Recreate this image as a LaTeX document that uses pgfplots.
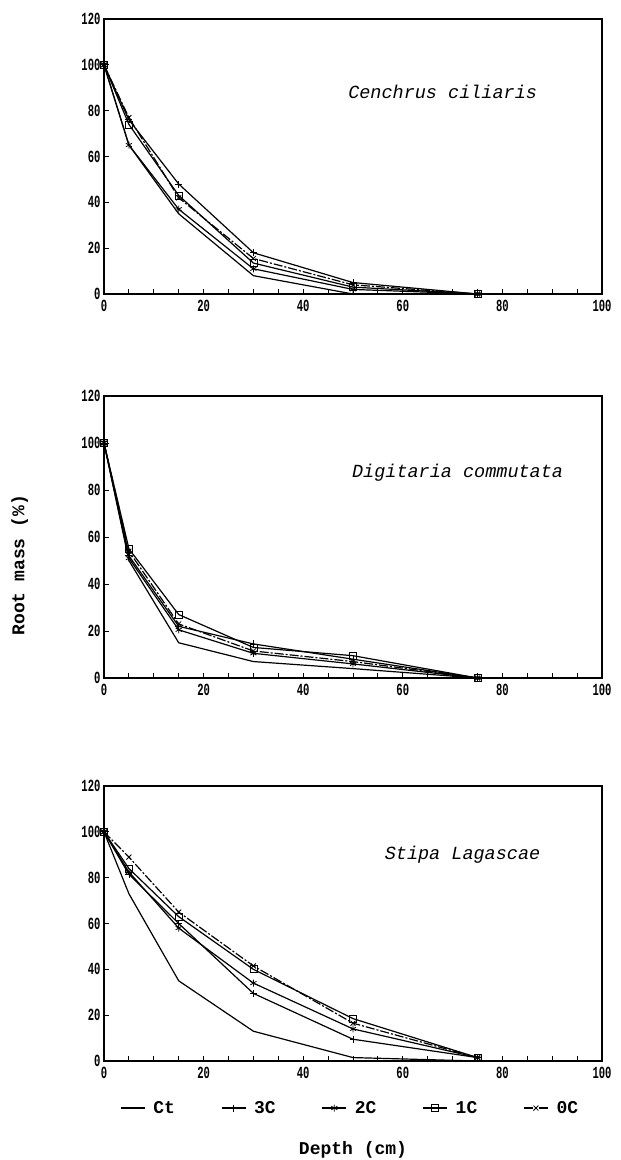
\documentclass[border=0pt]{standalone}
\usepackage{fontspec}
\setmainfont{Liberation Mono}
\newfontfamily\tickfont[FakeStretch=0.62]{Liberation Mono Bold}
\usepackage{pgfplots}
\usepackage{pgfplotstable}
\pgfplotsset{compat=1.18}

% depth (cm) vs root mass (%), one table per species
\pgfplotstableread{
depth ct c3 c2 c1 c0
0  100 100 100 100 100
5  65  76  65  74  77
15 35  48  37  43  42
30 8   18  11  13.5 15.5
50 0   5   2   3   4
75 0   0   0   0   0
}\cenchrus
\pgfplotstableread{
depth ct c3 c2 c1 c0
0  100 100 100 100 100
5  50  52  51  55  54
15 15  22  20.5 27 23
30 7   14.5 10.5 13 11.5
50 4   8   6   9.5 7
75 0   0   0   0   0
}\digitaria
\pgfplotstableread{
depth ct c3 c2 c1 c0
0  100 100 100 100 100
5  73  81.5 82.5 84 89
15 35  60  58  63  65
30 13  29.5 34 40  41.5
50 1.5 9.5 14  18.5 16.5
75 0   1.5 1.5 1.5 1.5
}\stipa

\tikzset{paneltitle/.style={font=\itshape\fontsize{18.5}{18.5}\selectfont}}

\pgfplotsset{
  rootpanel/.style={
    scale only axis, width=498pt, height=275pt,
    anchor=south west,
    xmin=0, xmax=100, ymin=0, ymax=120,
    xtick={0,20,...,100}, ytick={0,20,...,120},
    minor x tick num=3,
    tick align=inside, xtick pos=bottom, ytick pos=left,
    major tick length=5pt, minor tick length=5pt,
    /pgf/number format/assume math mode=true,
    ticklabel style={font=\tickfont\fontsize{17}{17}\selectfont},
    xticklabel style={yshift=-3pt},
    axis line style={line width=1.4pt},
    every tick/.style={black, line width=1pt},
    every axis plot/.append style={black, line width=1.2pt, mark size=3.5pt,
      mark options={solid, line width=0.8pt}},
    clip=false,
  },
  ct/.style={mark=none},
  c3/.style={mark=+},
  c2/.style={mark=asterisk},
  c1/.style={mark=square},
  c0/.style={mark=x, dash pattern=on 9pt off 2pt on 2pt off 2pt},
}

\begin{document}
\begin{tikzpicture}
\path[use as bounding box] (0,0) rectangle (621pt,-1160pt);

\begin{axis}[rootpanel, at={(104pt,-294pt)}]
\addplot[ct] table[x=depth,y=ct] {\cenchrus};
\addplot[c3] table[x=depth,y=c3] {\cenchrus};
\addplot[c2] table[x=depth,y=c2] {\cenchrus};
\addplot[c1] table[x=depth,y=c1] {\cenchrus};
\addplot[c0] table[x=depth,y=c0] {\cenchrus};
\node[paneltitle] at (axis cs:68,88) {Cenchrus ciliaris};
\end{axis}

\begin{axis}[rootpanel, at={(104pt,-678pt)}, height=282pt,
  ylabel={Root mass (\%)},
  ylabel style={at={(axis description cs:-0.169,0.40)}, anchor=center,
    font=\bfseries\fontsize{18}{18}\selectfont}]
\addplot[ct] table[x=depth,y=ct] {\digitaria};
\addplot[c3] table[x=depth,y=c3] {\digitaria};
\addplot[c2] table[x=depth,y=c2] {\digitaria};
\addplot[c1] table[x=depth,y=c1] {\digitaria};
\addplot[c0] table[x=depth,y=c0] {\digitaria};
\node[paneltitle] at (axis cs:71,87.5) {Digitaria commutata};
\end{axis}

\begin{axis}[rootpanel, at={(104pt,-1061pt)},
  legend columns=5,
  legend style={draw=none, fill=none, at={(axis description cs:0.032,-0.171)},
    anchor=west, inner sep=0pt,
    font=\bfseries\fontsize{18}{18}\selectfont,
    /tikz/every even column/.append style={column sep=44pt}},
  legend image code/.code={\draw[mark repeat=2, mark phase=2]
    plot coordinates {(0pt,0pt) (12pt,0pt) (24pt,0pt)};
    \path (30pt,0pt);}]
\addplot[ct] table[x=depth,y=ct] {\stipa};
\addplot[c3] table[x=depth,y=c3] {\stipa};
\addplot[c2] table[x=depth,y=c2] {\stipa};
\addplot[c1] table[x=depth,y=c1] {\stipa};
\addplot[c0] table[x=depth,y=c0] {\stipa};
\legend{Ct,3C,2C,1C,0C}
\node[paneltitle] at (axis cs:72,90) {Stipa Lagascae};
\node[font=\bfseries\fontsize{18}{18}\selectfont] at ([yshift=-89pt]axis description cs:0.5,0) {Depth (cm)};
\end{axis}
\end{tikzpicture}
\end{document}
